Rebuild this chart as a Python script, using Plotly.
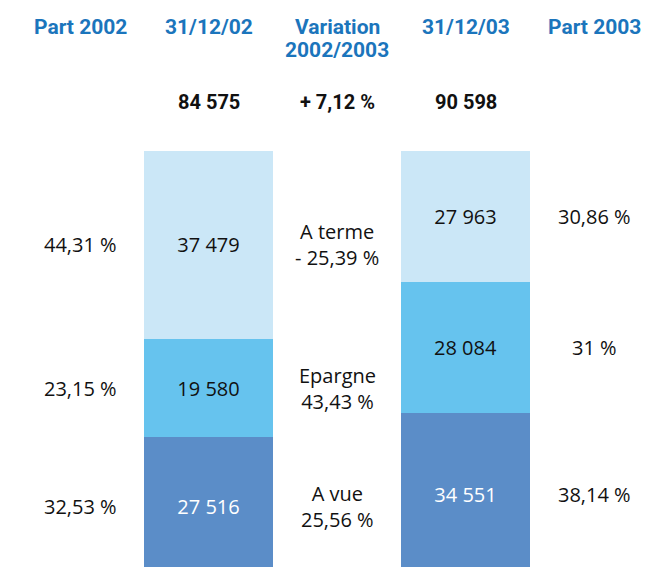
import plotly.graph_objects as go

# ---- data ----
columns = ["Part 2002", "31/12/02", "Variation", "31/12/03", "Part 2003"]
variation_header2 = "2002/2003"
dates = ["31/12/02", "31/12/03"]
totals = ["84 575", "90 598"]
total_variation = "+ 7,12 %"

categories = ["A vue", "Epargne", "A terme"]          # bottom -> top
values_2002 = [27516, 19580, 37479]
values_2003 = [34551, 28084, 27963]
part_2002 = ["32,53 %", "23,15 %", "44,31 %"]
part_2003 = ["38,14 %", "31 %", "30,86 %"]
variation = ["25,56 %", "43,43 %", "- 25,39 %"]

colors = ["#5b8dc8", "#66c3ee", "#cbe7f7"]
text_colors = ["white", "#111111", "#111111"]
header_blue = "#1b75bc"

W, H = 648, 567
TOP = 151
plot_h = H - TOP

def fmt(v):
    return f"{v:,}".replace(",", " ")

def centers(vals):
    tot = sum(vals)
    out, cum = [], 0.0
    for v in vals:
        share = v / tot * 100
        out.append(cum + share / 2)
        cum += share
    return out

fig = go.Figure()
for i, cat in enumerate(categories):
    fig.add_trace(go.Bar(
        x=[1, 3],
        y=[values_2002[i], values_2003[i]],
        width=1.0,
        name=cat,
        marker=dict(color=colors[i], line=dict(width=0)),
        text=[fmt(values_2002[i]), fmt(values_2003[i])],
        textposition="inside",
        insidetextanchor="middle",
        textangle=0,
        textfont=dict(family="Open Sans", size=20, color=text_colors[i]),
        hoverinfo="skip",
    ))

ann = []
def py2paper(py):
    return (H - py) / plot_h

# headers
hfont = dict(family="Roboto", size=21, color=header_blue)
for i, c in enumerate(columns):
    ann.append(dict(x=i, y=py2paper(27), xref="x", yref="paper", text=f"<b>{c}</b>",
                    showarrow=False, font=hfont, xanchor="center", yanchor="middle"))
ann.append(dict(x=2, y=py2paper(50), xref="x", yref="paper", text=f"<b>{variation_header2}</b>",
                showarrow=False, font=hfont, xanchor="center", yanchor="middle"))
# totals
for xx, t in zip([1, 2, 3], [totals[0], total_variation, totals[1]]):
    ann.append(dict(x=xx, y=py2paper(102), xref="x", yref="paper", text=f"<b>{t}</b>",
                    showarrow=False, font=dict(family="Roboto", size=20, color="#111111"),
                    xanchor="center", yanchor="middle"))

c02 = centers(values_2002)
c03 = centers(values_2003)
body_font = dict(family="Open Sans", size=20, color="#111111")
for i in range(3):
    ann.append(dict(x=0, y=c02[i], xref="x", yref="y", text=part_2002[i], showarrow=False,
                    font=body_font, xanchor="center", yanchor="middle"))
    ann.append(dict(x=4, y=c03[i], xref="x", yref="y", text=part_2003[i], showarrow=False,
                    font=body_font, xanchor="center", yanchor="middle"))
    ann.append(dict(x=2, y=c02[i], xref="x", yref="y",
                    text=f"{categories[i]}<br>{variation[i]}", showarrow=False,
                    font=body_font, xanchor="center", yanchor="middle"))

fig.update_layout(
    width=W, height=H,
    margin=dict(l=0, r=0, t=TOP, b=0, pad=0),
    barmode="stack", barnorm="percent",
    showlegend=False,
    plot_bgcolor="white", paper_bgcolor="white",
    xaxis=dict(range=[-0.6226, 4.42], visible=False, fixedrange=True),
    yaxis=dict(range=[1.9, 100], visible=False, fixedrange=True),
    annotations=ann,
    hovermode=False,
)
fig.write_html("out.html", config={"displayModeBar": False},
               post_script="document.body.style.margin='0';document.body.style.overflow='hidden';")
